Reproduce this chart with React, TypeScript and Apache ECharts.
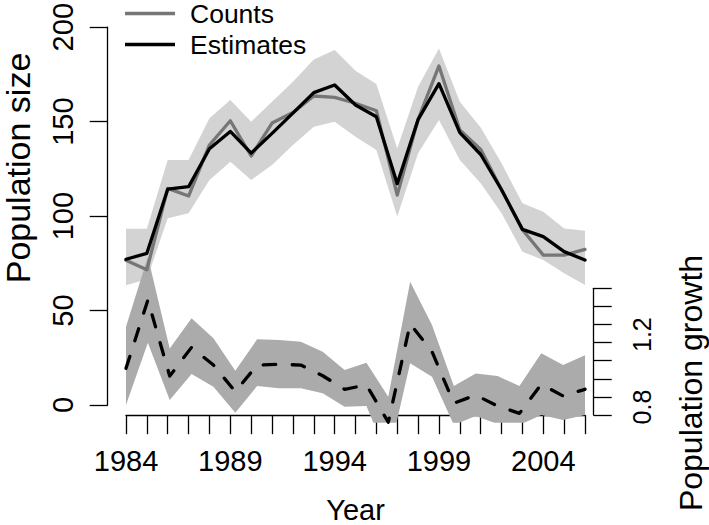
import React, { useEffect, useRef } from "react";
import * as echarts from "echarts";

// ---------------- data ----------------
const years = [1984, 1985, 1986, 1987, 1988, 1989, 1990, 1991, 1992, 1993, 1994, 1995, 1996, 1997, 1998, 1999, 2000, 2001, 2002, 2003, 2004, 2005, 2006];
const counts = [76, 71, 113.7, 109.7, 136.5, 149.2, 130.7, 148, 153.5, 162.2, 161.5, 158.4, 154.5, 110.2, 150, 178, 144.4, 134.2, 113, 92, 78.7, 78.7, 81.7];
const estimates = [76.5, 79.6, 113.3, 114.6, 134.5, 143.6, 132.2, 142.6, 153.2, 164, 168, 157.5, 151.3, 116.2, 149.8, 168.7, 143, 131.5, 113, 92.2, 88.4, 80.5, 76.1];
const estUpper = [92.5, 92.5, 128.6, 128.6, 150.5, 160.1, 148.7, 159.2, 169.7, 181.4, 186.4, 175.5, 168.5, 134.7, 167.1, 187.2, 159.2, 145.7, 126.9, 105.9, 101.5, 92.7, 91.5];
const estLower = [62.8, 66, 98, 100.6, 118.1, 127.7, 118.1, 126, 136.5, 146.1, 148.7, 140.8, 133.9, 98.9, 132.1, 149.6, 128.6, 116.4, 100.6, 80.5, 76.1, 69.1, 63];

// population growth (22 yearly rates, plotted on their own index scale 1..22)
const growth = [1.058, 1.435, 1.015, 1.174, 1.076, 0.929, 1.076, 1.08, 1.076, 1.017, 0.942, 0.966, 0.76, 1.303, 1.15, 0.865, 0.91, 0.85, 0.809, 0.97, 0.905, 0.942];
const growthUpper = [1.288, 1.675, 1.168, 1.334, 1.224, 1.045, 1.218, 1.214, 1.205, 1.15, 1.049, 1.089, 0.901, 1.536, 1.297, 0.96, 1.03, 1.015, 0.96, 1.141, 1.076, 1.13];
const growthLower = [0.855, 1.199, 0.883, 1.027, 0.956, 0.813, 0.96, 0.948, 0.948, 0.92, 0.846, 0.85, 0.56, 1.086, 1.012, 0.745, 0.795, 0.75, 0.745, 0.8, 0.772, 0.8];

const yearLabels = [1984, 1989, 1994, 1999, 2004];
const growthLabels = ["0.8", "1.2"];
const legendNames = ["Counts", "Estimates"];

const FONT = "'Liberation Sans', Arial, Helvetica, sans-serif";

const growthIdx = growth.map((_, i) => i + 1);

function bandSeries(xIdx: number, yIdx: number, xs: number[], lo: number[], hi: number[], color: string, z: number) {
  return {
    type: "custom",
    xAxisIndex: xIdx,
    yAxisIndex: yIdx,
    clip: true,
    silent: true,
    z,
    data: [[xs[0], lo[0]]],
    renderItem: (_params: any, api: any) => {
      const pts: number[][] = [];
      for (let i = 0; i < xs.length; i++) pts.push(api.coord([xs[i], hi[i]]));
      for (let i = xs.length - 1; i >= 0; i--) pts.push(api.coord([xs[i], lo[i]]));
      return { type: "polygon", shape: { points: pts }, style: { fill: color, stroke: null } };
    },
  };
}

const axisLineStyle = { color: "#000", width: 1.3 };

export default function App() {
  const ref = useRef<HTMLDivElement>(null);
  useEffect(() => {
    if (!ref.current) return;
    const chart = echarts.init(ref.current, null, { renderer: "svg" });
    const option: any = {
      animation: false,
      backgroundColor: "#fff",
      textStyle: { fontFamily: FONT },
      grid: [
        { left: 107.7, right: 105.3, top: 0, bottom: 102.3 }, // plot region
        { left: 107.7, width: 10, top: 24, height: 381 }, // left axis
        { left: 126, width: 459, top: 412.7, height: 10 }, // bottom axis
        { left: 593.7, width: 10, top: 288.3, height: 126.7 }, // right axis
      ],
      xAxis: [
        { gridIndex: 0, type: "value", min: 1983.123, max: 2006.896, show: false },
        { gridIndex: 0, type: "value", min: 0.1627, max: 22.856, show: false },
        { gridIndex: 1, type: "value", show: false },
        {
          gridIndex: 2,
          type: "value",
          position: "bottom",
          min: 1984,
          max: 2006,
          interval: 1,
          axisLine: { show: true, lineStyle: axisLineStyle },
          axisTick: { show: true, inside: false, length: 19, lineStyle: axisLineStyle },
          splitLine: { show: false },
          axisLabel: {
            show: true,
            margin: 31,
            fontSize: 29,
            color: "#000",
            fontFamily: FONT,
            showMinLabel: true,
            showMaxLabel: true,
            formatter: (v: number) => (yearLabels.includes(Math.round(v)) ? String(Math.round(v)) : ""),
          },
          name: "Year",
          nameLocation: "middle",
          nameGap: 80,
          nameTextStyle: { fontSize: 29, color: "#000", fontFamily: FONT, lineHeight: 29 },
        },
        { gridIndex: 3, type: "value", show: false },
      ],
      yAxis: [
        { gridIndex: 0, type: "value", min: -9.29, max: 212.6, show: false },
        { gridIndex: 0, type: "value", min: 0.7575, max: 3.0928, show: false },
        {
          gridIndex: 1,
          type: "value",
          position: "left",
          min: 0,
          max: 200,
          interval: 50,
          axisLine: { show: true, lineStyle: axisLineStyle },
          axisTick: { show: true, inside: false, length: 18, lineStyle: axisLineStyle },
          splitLine: { show: false },
          axisLabel: { show: true, rotate: 90, margin: 30, fontSize: 29, color: "#000", fontFamily: FONT },
        },
        { gridIndex: 2, type: "value", show: false },
        {
          gridIndex: 3,
          type: "value",
          position: "right",
          min: 0.8,
          max: 1.5,
          interval: 0.1,
          axisLine: { show: true, lineStyle: axisLineStyle },
          axisTick: { show: true, inside: false, length: 18, lineStyle: axisLineStyle },
          splitLine: { show: false },
          axisLabel: {
            show: true,
            rotate: 90,
            margin: 26,
            fontSize: 25,
            color: "#000",
            fontFamily: FONT,
            showMinLabel: true,
            padding: [0, 0, 0, 16],
            formatter: (v: number) => (growthLabels.includes(v.toFixed(1)) ? v.toFixed(1) : ""),
          },
        },
      ],
      legend: {
        data: legendNames,
        orient: "vertical",
        left: 125,
        top: 0,
        padding: 0,
        itemWidth: 50,
        itemHeight: 3.5,
        itemGap: 4,
        icon: "rect",
        selectedMode: false,
        textStyle: { fontSize: 26.5, fontFamily: FONT, color: "#000", lineHeight: 26, padding: [0, 0, 0, 10] },
      },
      graphic: [
        {
          type: "text",
          x: 18,
          y: 168,
          rotation: Math.PI / 2,
          style: { text: "Population size", fontSize: 34, fontFamily: FONT, fill: "#000", align: "center", verticalAlign: "middle" },
        },
        {
          type: "text",
          x: 691,
          y: 383,
          rotation: Math.PI / 2,
          style: { text: "Population growth", fontSize: 32, fontFamily: FONT, fill: "#000", align: "center", verticalAlign: "middle" },
        },
      ],
      series: [
        bandSeries(0, 0, years, estLower, estUpper, "#d3d3d3", 1),
        bandSeries(1, 1, growthIdx, growthLower, growthUpper, "#ababab", 2),
        {
          name: "Counts",
          type: "line",
          xAxisIndex: 0,
          yAxisIndex: 0,
          data: years.map((y, i) => [y, counts[i]]),
          symbol: "none",
          z: 3,
          itemStyle: { color: "#767676" },
          lineStyle: { color: "#767676", width: 3.3, join: "round", cap: "round" },
        },
        {
          name: "Estimates",
          type: "line",
          xAxisIndex: 0,
          yAxisIndex: 0,
          data: years.map((y, i) => [y, estimates[i]]),
          symbol: "none",
          z: 4,
          itemStyle: { color: "#000" },
          lineStyle: { color: "#000", width: 3.3, join: "round", cap: "round" },
        },
        {
          name: "Growth",
          type: "line",
          xAxisIndex: 1,
          yAxisIndex: 1,
          clip: true,
          data: growthIdx.map((x, i) => [x, growth[i]]),
          symbol: "none",
          z: 5,
          itemStyle: { color: "#000" },
          lineStyle: { color: "#000", width: 3.3, type: [12.5, 16.5], cap: "round", join: "round" },
        },
      ],
    };
    chart.setOption(option);
    return () => chart.dispose();
  }, []);
  return <div ref={ref} style={{ position: "fixed", left: 0, top: 0, width: 709, height: 525, background: "#fff" }} />;
}
